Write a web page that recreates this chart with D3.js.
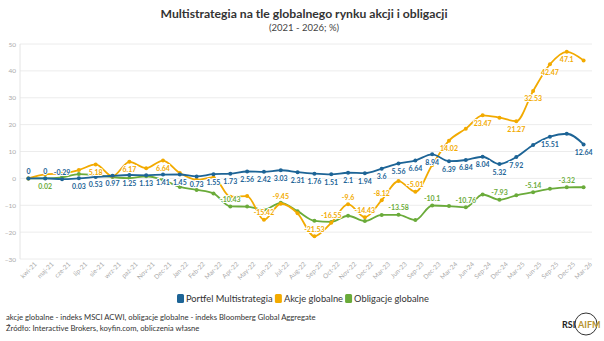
<!DOCTYPE html>
<html>
<head>
<meta charset="utf-8">
<script src="https://cdn.jsdelivr.net/npm/d3@7"></script>
<style>
  body { margin: 0; background: #fff; }
  svg { display: block; font-family: Lato, "Open Sans", sans-serif; }
</style>
</head>
<body>
<svg id="chart"></svg>
<script>
// miesiace (os X)
const months = ['kwi-21','maj-21','cze-21','lip-21','sie-21','wrz-21','paź-21','Nov-21','Dec-21',
  'Jan-22','Feb-22','Mar-22','Apr-22','May-22','Jun-22','Jul-22','Aug-22','Sep-22','Oct-22','Nov-22','Dec-22',
  'Mar-23','Jun-23','Sep-23','Dec-23','Mar-24','Jun-24','Sep-24','Dec-24','Mar-25','Jun-25','Sep-25','Dec-25','Mar-26'];

const portfel = [0, 0, -0.29, 0.03, 0.53, 0.97, 1.25, 1.13, 1.41, 1.45, 0.73, 1.55, 1.73, 2.56, 2.42, 3.03, 2.31,
  1.76, 1.51, 2.1, 1.94, 3.6, 5.56, 6.64, 8.94, 6.39, 6.84, 8.04, 5.32, 7.92, 12.4, 15.51, 16.6, 12.64];

const akcje = [0, 1.5, 1.8, 3.1, 5.18, 0.8, 6.17, 3.8, 6.64, 2.0, -0.5, 0.4, -6.8, -6.6, -15.42, -9.45, -13,
  -21.53, -16.55, -9.6, -14.43, -8.12, -1.0, -5.01, 5.0, 14.02, 18.5, 23.47, 22.6, 21.27, 32.53, 42.47, 47.1, 43.9];

const obligacje = [0, 0.02, 0.4, 1.6, 1.2, 0.5, 0.1, 0.8, -0.6, -3.2, -4.3, -5.6, -10.43, -10.5, -11.7, -9.1, -12.2,
  -15.8, -16.2, -13.9, -15.9, -13.6, -13.58, -15.5, -10.1, -10.3, -10.76, -6.0, -7.93, -6.3, -5.14, -3.9, -3.32, -3.3];

// ktore punkty maja etykiety
const portfelLabels = [0,1,2,3,4,5,6,7,8,9,10,11,12,13,14,15,16,17,18,19,20,21,22,23,24,25,26,27,28,29,31,33];
const akcjeLabels = [4,6,8,14,15,17,18,19,20,21,23,25,27,29,30,31,32];
const obligacjeLabels = [1,12,22,24,26,28,30,32];

const yTicks = [-30, -20, -10, 0, 10, 20, 30, 40, 50];

const seriesNames = ['Portfel Multistrategia', 'Akcje globalne', 'Obligacje globalne'];
const seriesColors = ['#1d6496', '#f2aa00', '#6aab3a'];

class LineChart {

    constructor( config ) {
        this.config = {
            parent: config.parent,
            width: config.width || 604,
            height: config.height || 341,
            margin: config.margin || {top:44, right:12, bottom:82, left:20}
        }
        this.init();
    }

    init() {
        let self = this;

        self.svg = d3.select( self.config.parent )
            .attr('width', self.config.width)
            .attr('height', self.config.height);

        self.inner_width = self.config.width - self.config.margin.left - self.config.margin.right;
        self.inner_height = self.config.height - self.config.margin.top - self.config.margin.bottom;

        self.chart = self.svg.append('g')
            .attr('transform', `translate(${self.config.margin.left}, ${self.config.margin.top})`);

        self.xscale = d3.scalePoint()
            .domain( months )
            .range( [0, self.inner_width] )
            .padding(0.5);

        self.yscale = d3.scaleLinear()
            .domain( [-30, 50] )
            .range( [self.inner_height, 0] );

        // tytul
        self.svg.append('text')
            .attr('x', self.config.width / 2 + 2)
            .attr('y', 18)
            .attr('text-anchor', 'middle')
            .style('font-size', '12.2px')
            .style('font-weight', 'bold')
            .style('fill', '#333')
            .text('Multistrategia na tle globalnego rynku akcji i obligacji');

        self.svg.append('text')
            .attr('x', self.config.width / 2 + 2)
            .attr('y', 31)
            .attr('text-anchor', 'middle')
            .style('font-size', '9.5px')
            .style('fill', '#444')
            .text('(2021 - 2026; %)');
    }

    render() {
        let self = this;

        // siatka
        self.chart.append('g')
            .selectAll('line')
            .data(yTicks)
            .join('line')
            .attr('x1', 0)
            .attr('x2', self.inner_width)
            .attr('y1', d => self.yscale(d))
            .attr('y2', d => self.yscale(d))
            .attr('stroke', '#ececec')
            .attr('stroke-width', 1);

        self.chart.append('line')
            .attr('x1', 0).attr('x2', 0)
            .attr('y1', self.yscale(50)).attr('y2', self.yscale(-30))
            .attr('stroke', '#e4e4e4');

        self.yaxis = d3.axisLeft( self.yscale )
            .tickValues( yTicks )
            .tickSize(0)
            .tickPadding(4);

        self.yaxis_group = self.chart.append('g')
            .call( self.yaxis );
        self.yaxis_group.select('.domain').remove();
        self.yaxis_group.selectAll('text')
            .style('font-size', '6.5px')
            .style('font-family', 'Lato, sans-serif')
            .style('fill', '#aaa');

        self.xaxis = d3.axisBottom( self.xscale )
            .tickSize(0)
            .tickPadding(6);

        self.xaxis_group = self.chart.append('g')
            .attr('transform', `translate(0, ${self.inner_height})`)
            .call( self.xaxis );
        self.xaxis_group.select('.domain').remove();
        self.xaxis_group.selectAll('text')
            .style('font-size', '6.5px')
            .style('font-family', 'Lato, sans-serif')
            .style('fill', '#aaa')
            .attr('text-anchor', 'end')
            .attr('dx', '0.3em')
            .attr('dy', '0.6em')
            .attr('transform', 'rotate(-45)');

        const line = d3.line()
            .x((d, i) => self.xscale(months[i]))
            .y(d => self.yscale(d))
            .curve(d3.curveMonotoneX);

        const allSeries = [portfel, akcje, obligacje];
        const allLabels = [portfelLabels, akcjeLabels, obligacjeLabels];

        // rysujemy od ostatniej serii, zeby portfel byl na wierzchu
        [2, 1, 0].forEach(k => {
            const values = allSeries[k];
            self.chart.append('path')
                .attr('d', line(values))
                .attr('stroke', seriesColors[k])
                .attr('stroke-width', 1.8)
                .attr('fill', 'none');

            self.chart.append('g')
                .selectAll('circle')
                .data(values)
                .join('circle')
                .attr('cx', (d, i) => self.xscale(months[i]))
                .attr('cy', d => self.yscale(d))
                .attr('r', 2)
                .attr('fill', seriesColors[k]);
        });

        [2, 1, 0].forEach(k => {
            const values = allSeries[k];
            self.chart.append('g')
                .selectAll('text')
                .data(allLabels[k])
                .join('text')
                .attr('x', i => self.xscale(months[i]))
                .attr('y', i => self.yscale(values[i]) + (values[i] > 0 ? 10.5 : -4.5))
                .attr('text-anchor', 'middle')
                .style('font-size', '7px')
                .style('font-weight', 'bold')
                .style('fill', seriesColors[k])
                .style('stroke', '#fff')
                .style('stroke-width', 2)
                .style('paint-order', 'stroke')
                .text(i => values[i]);
        });

        // legenda
        const legend = self.svg.append('g');
        let lx = 0;
        const items = legend.selectAll('g')
            .data(seriesNames)
            .join('g');
        items.append('rect')
            .attr('width', 7).attr('height', 9)
            .attr('y', -8)
            .attr('rx', 1.5)
            .attr('fill', (d, i) => seriesColors[i]);
        items.append('text')
            .attr('x', 9)
            .style('font-size', '9.3px')
            .style('fill', '#333')
            .text(d => d);
        items.each(function() {
            d3.select(this).attr('transform', `translate(${lx}, 0)`);
            lx += this.getBBox().width + 2;
        });
        legend.attr('transform', `translate(${(self.config.width - lx) / 2 + 2}, 302)`);

        // przypisy
        self.svg.append('text')
            .attr('x', 6).attr('y', 320)
            .style('font-size', '7.7px')
            .style('fill', '#333')
            .text('akcje globalne - indeks MSCI ACWI, obligacje globalne - indeks Bloomberg Global Aggregate');
        self.svg.append('text')
            .attr('x', 6).attr('y', 331)
            .style('font-size', '7.7px')
            .style('fill', '#333')
            .text('Źródło: Interactive Brokers, koyfin.com, obliczenia własne');

        // logo
        const logo = self.svg.append('g').attr('transform', 'translate(562, 325)');
        logo.append('circle')
            .attr('cx', 24).attr('cy', -1).attr('r', 11)
            .attr('fill', 'none').attr('stroke', '#333').attr('stroke-width', 1);
        logo.append('text')
            .attr('x', 0).attr('y', 3)
            .style('font-size', '9px').style('font-weight', 'bold').style('fill', '#222')
            .text('RSI');
        logo.append('text')
            .attr('x', 16).attr('y', 3)
            .style('font-size', '9px').style('font-weight', 'bold').style('fill', '#b8932f')
            .text('AIFM');
    }
}

const chart = new LineChart({ parent: '#chart' });
chart.render();
</script>
</body>
</html>
